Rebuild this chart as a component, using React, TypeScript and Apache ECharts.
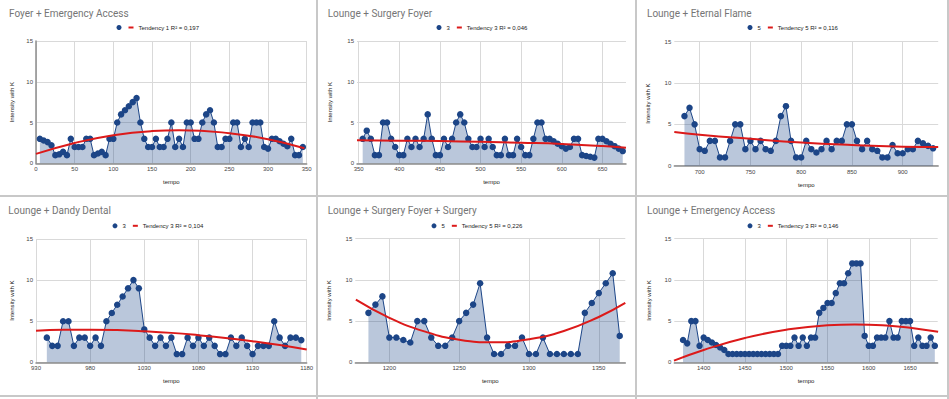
import React, { useEffect, useRef } from 'react';
import * as echarts from 'echarts';

// ---------- DATA ----------
const titles = [
  'Foyer + Emergency Access',
  'Lounge + Surgery Foyer',
  'Lounge + Eternal Flame',
  'Lounge + Dandy Dental',
  'Lounge + Surgery Foyer + Surgery',
  'Lounge + Emergency Access',
];
const seriesLabels = ['', '3', '5', '3', '5', '3'];
const trendLabels = [
  'Tendency 1 R² = 0,197',
  'Tendency 3 R² = 0,046',
  'Tendency 5 R² = 0,116',
  'Tendency 3 R² = 0,104',
  'Tendency 5 R² = 0,226',
  'Tendency 3 R² = 0,146',
];

const tempo1 = [5, 10, 15, 20, 25, 30, 35, 40, 45, 50, 55, 60, 65, 70, 75, 80, 85, 90, 95, 100, 105, 110, 115, 120, 125, 130, 135, 140, 145, 150, 155, 160, 165, 170, 175, 180, 185, 190, 195, 200, 205, 210, 215, 220, 225, 230, 235, 240, 245, 250, 255, 260, 265, 270, 275, 280, 285, 290, 295, 300, 305, 310, 315, 320, 325, 330, 335, 340, 345];
const intensity1 = [3, 2.8, 2.6, 2.2, 1, 1.1, 1.4, 1, 3, 2, 2, 2, 3, 3, 1, 1.2, 1.4, 1, 3, 3, 5, 6, 6.5, 7, 7.5, 8, 5, 3, 2, 2, 3, 2, 2, 3, 5, 2, 3, 2, 5, 5, 3, 3, 5, 6, 6.5, 5, 2, 2, 3, 3, 5, 5, 2, 3, 2, 5, 5, 5, 2, 1.8, 3, 3, 2.7, 2.4, 2.1, 3, 1, 1, 2];
const trendX1 = [0, 50, 100, 150, 185, 250, 300, 347];
const trendY1 = [1.15, 2.5, 3.45, 3.95, 4.05, 3.7, 2.95, 1.85];

const tempo2 = [355, 360, 365, 370, 375, 380, 385, 390, 395, 400, 405, 410, 415, 420, 425, 430, 435, 440, 445, 450, 455, 460, 465, 470, 475, 480, 485, 490, 495, 500, 505, 510, 515, 520, 525, 530, 535, 540, 545, 550, 555, 560, 565, 570, 575, 580, 585, 590, 595, 600, 605, 610, 615, 620, 625, 630, 635, 640, 645, 650, 655, 660, 665, 670, 675];
const intensity2 = [3, 4, 3, 1, 1, 5, 5, 3, 2, 1, 1, 3, 2, 3, 2, 3, 6, 3, 1, 1, 3, 2, 3, 5, 6, 5, 3, 2, 2, 3, 2, 3, 2, 1, 1, 3, 1, 1, 3, 2, 1, 1, 3, 5, 5, 3, 3, 2.7, 2.4, 2.1, 1.8, 2, 3, 3, 1, 0.9, 0.8, 0.7, 3, 3, 2.7, 2.4, 2.1, 1.8, 1.5];
const trendX2 = [348, 400, 450, 500, 550, 600, 650, 679];
const trendY2 = [2.82, 2.78, 2.72, 2.64, 2.52, 2.37, 2.12, 1.9];

const tempo3 = [685, 690, 695, 700, 705, 710, 715, 720, 725, 730, 735, 740, 745, 750, 755, 760, 765, 770, 775, 780, 785, 790, 795, 800, 805, 810, 815, 820, 825, 830, 835, 840, 845, 850, 855, 860, 865, 870, 875, 880, 885, 890, 895, 900, 905, 910, 915, 920, 925, 930];
const intensity3 = [6, 7, 5, 2, 1.8, 3, 3, 1, 1, 3, 5, 5, 2, 3, 2, 3, 2, 1.8, 3, 6, 7.2, 3, 1, 1, 3, 2, 1.6, 2, 3, 2, 3, 3, 5, 5, 3, 2, 3, 2, 1.8, 1, 1, 2.5, 1.5, 1.5, 2, 2, 3, 2.7, 2.4, 2.1];
const trendX3 = [675, 700, 750, 800, 850, 900, 935];
const trendY3 = [4.07, 3.75, 3.25, 2.8, 2.5, 2.3, 2.25];

const tempo4 = [940, 945, 950, 955, 960, 965, 970, 975, 980, 985, 990, 995, 1000, 1005, 1010, 1015, 1020, 1025, 1030, 1035, 1040, 1045, 1050, 1055, 1060, 1065, 1070, 1075, 1080, 1085, 1090, 1095, 1100, 1105, 1110, 1115, 1120, 1125, 1130, 1135, 1140, 1145, 1150, 1155, 1160, 1165, 1170, 1175];
const intensity4 = [3, 2, 2, 5, 5, 2, 3, 3, 2, 3, 2, 5, 6, 7, 8, 9, 10, 9, 4, 3, 2, 3, 2, 3, 1, 1, 3, 2, 3, 2, 3, 2, 1, 1, 3, 2, 3, 2, 1, 2, 2, 2, 5, 3, 2, 3, 3, 2.7];
const trendX4 = [930, 955, 980, 1005, 1030, 1055, 1080, 1105, 1130, 1155, 1180];
const trendY4 = [3.85, 3.95, 3.97, 3.92, 3.78, 3.58, 3.3, 2.97, 2.57, 2.1, 1.55];

const tempo5 = [1185, 1190, 1195, 1200, 1205, 1210, 1215, 1220, 1225, 1230, 1235, 1240, 1245, 1250, 1255, 1260, 1265, 1270, 1275, 1280, 1285, 1290, 1295, 1300, 1305, 1310, 1315, 1320, 1325, 1330, 1335, 1340, 1345, 1350, 1355, 1360, 1365];
const intensity5 = [6, 7, 8, 3, 3, 2.7, 2.4, 5, 5, 3, 2, 2, 3, 5, 6, 7, 9.6, 3, 1, 1, 2, 2, 3, 1, 1, 3, 1, 1, 1, 1, 1, 6, 7.2, 8.4, 9.6, 10.8, 3.2];
const trendX5 = [1176, 1200, 1225, 1250, 1275, 1300, 1325, 1350, 1369];
const trendY5 = [7.6, 5.4, 3.75, 2.75, 2.43, 2.8, 3.8, 5.5, 7.2];

const tempo6 = [1375, 1380, 1385, 1390, 1395, 1400, 1405, 1410, 1415, 1420, 1425, 1430, 1435, 1440, 1445, 1450, 1455, 1460, 1465, 1470, 1475, 1480, 1485, 1490, 1495, 1500, 1505, 1510, 1515, 1520, 1525, 1530, 1535, 1540, 1545, 1550, 1555, 1560, 1565, 1570, 1575, 1580, 1585, 1590, 1595, 1600, 1605, 1610, 1615, 1620, 1625, 1630, 1635, 1640, 1645, 1650, 1655, 1660, 1665, 1670, 1675, 1680];
const intensity6 = [2.7, 2.3, 5, 5, 2, 3, 2.7, 2.4, 2.1, 1.8, 1.5, 1, 1, 1, 1, 1, 1, 1, 1, 1, 1, 1, 1, 1, 2, 2, 2, 3, 2, 3, 2, 3, 3, 6, 6.6, 7.2, 7.2, 8.4, 9.6, 9.6, 10.8, 12, 12, 12, 3.2, 2, 2, 3, 3, 3, 5, 3, 3, 5, 5, 5, 2, 3, 2, 2, 3, 2];
const trendX6 = [1364, 1400, 1450, 1500, 1550, 1583, 1625, 1650, 1684];
const trendY6 = [0.2, 1.5, 2.95, 3.95, 4.5, 4.6, 4.45, 4.2, 3.7];

const xTicks1 = [0, 50, 100, 150, 200, 250, 300, 350];
const xTicks2 = [350, 400, 450, 500, 550, 600, 650];
const xTicks3 = [700, 750, 800, 850, 900];
const xTicks4 = [930, 980, 1030, 1080, 1130, 1180];
const xTicks5 = [1200, 1250, 1300, 1350];
const xTicks6 = [1400, 1450, 1500, 1550, 1600, 1650];

const xRanges = [
  [0, 350],
  [348, 679],
  [675, 935],
  [930, 1180],
  [1175.6, 1369],
  [1364.4, 1683.5],
];

const panels = [
  { tempo: tempo1, intensity: intensity1, tx: trendX1, ty: trendY1, ticks: xTicks1 },
  { tempo: tempo2, intensity: intensity2, tx: trendX2, ty: trendY2, ticks: xTicks2 },
  { tempo: tempo3, intensity: intensity3, tx: trendX3, ty: trendY3, ticks: xTicks3 },
  { tempo: tempo4, intensity: intensity4, tx: trendX4, ty: trendY4, ticks: xTicks4 },
  { tempo: tempo5, intensity: intensity5, tx: trendX5, ty: trendY5, ticks: xTicks5 },
  { tempo: tempo6, intensity: intensity6, tx: trendX6, ty: trendY6, ticks: xTicks6 },
];

// ---------- LAYOUT ----------
const layout = [
  { gl: 36, gt: 41, gw: 270.7, gh: 122.3, tx: 9, ty: 8, lx: 116.5, ly: 24.5, yng: 21 },
  { gl: 357, gt: 41, gw: 269, gh: 122.3, tx: 327.7, ty: 8, lx: 436.5, ly: 24.5, yng: 24.5 },
  { gl: 674.3, gt: 41.7, gw: 263.9, gh: 124, tx: 647, ty: 8, lx: 747.5, ly: 24.5, yng: 23 },
  { gl: 36, gt: 239, gw: 270.7, gh: 123.3, tx: 8.3, ty: 205, lx: 112.5, ly: 222.8, yng: 21 },
  { gl: 355.3, gt: 238.7, gw: 270, gh: 123.6, tx: 327.7, ty: 205, lx: 431.5, ly: 222.8, yng: 23 },
  { gl: 674.3, gt: 238.7, gw: 263.4, gh: 123.6, tx: 647, ty: 205, lx: 747.5, ly: 222.8, yng: 22.5 },
];

const BLUE = '#1c4587';
const RED = '#dc1a1a';
const SMALL_FONT = "'Liberation Sans', Arial, sans-serif";
const TREND_ICON = 'path://M0,0H5V2H0Z';

export default function App() {
  const ref = useRef<HTMLDivElement>(null);

  useEffect(() => {
    if (!ref.current) return;
    const chart = echarts.init(ref.current, undefined, { renderer: 'svg' });

    const labelMap: Record<string, string> = {};
    panels.forEach((_, i) => {
      labelMap['s' + i] = seriesLabels[i];
      labelMap['t' + i] = trendLabels[i];
    });

    const series: any[] = [];
    panels.forEach((p, i) => {
      series.push({
        name: 's' + i,
        type: 'line',
        xAxisIndex: i,
        yAxisIndex: i,
        data: p.tempo.map((x, k) => [x, p.intensity[k]]),
        symbol: 'circle',
        symbolSize: 6.5,
        showSymbol: true,
        lineStyle: { color: BLUE, width: 1 },
        itemStyle: { color: BLUE },
        areaStyle: { color: BLUE, opacity: 0.3 },
        z: 2,
      });
      series.push({
        name: 't' + i,
        type: 'line',
        xAxisIndex: i,
        yAxisIndex: i,
        data: p.tx.map((x, k) => [x, p.ty[k]]),
        smooth: 0.5,
        symbol: 'none',
        showSymbol: false,
        lineStyle: { color: RED, width: 2 },
        itemStyle: { color: RED },
        z: 3,
      });
    });

    const borderLines = [
      { x1: 317, y1: 0, x2: 317, y2: 399 },
      { x1: 636, y1: 0, x2: 636, y2: 399 },
      { x1: 948, y1: 0, x2: 948, y2: 399 },
      { x1: 0, y1: 196, x2: 949, y2: 196 },
      { x1: 0, y1: 396, x2: 949, y2: 396 },
    ];

    const option: any = {
      animation: false,
      textStyle: { fontFamily: SMALL_FONT },
      title: panels.map((_, i) => ({
        text: titles[i],
        left: layout[i].tx,
        top: layout[i].ty,
        padding: 0,
        textStyle: { fontSize: 10, fontWeight: 'normal', color: '#757575', fontFamily: 'Roboto, Arial, sans-serif' },
      })),
      legend: panels.map((_, i) => ({
        left: layout[i].lx,
        top: layout[i].ly,
        padding: 0,
        orient: 'horizontal',
        itemWidth: 5,
        itemHeight: 5,
        itemGap: 7,
        selectedMode: false,
        symbolKeepAspect: true,
        data: [
          { name: 's' + i, icon: 'circle' },
          { name: 't' + i, icon: TREND_ICON, itemStyle: { color: RED } },
        ],
        formatter: (n: string) => labelMap[n] ?? '',
        textStyle: { fontSize: 6, color: '#222', fontFamily: SMALL_FONT },
      })),
      grid: panels.map((_, i) => ({
        left: layout[i].gl,
        top: layout[i].gt,
        width: layout[i].gw,
        height: layout[i].gh,
        containLabel: false,
        outerBoundsMode: 'none',
      })),
      xAxis: panels.map((p, i) => ({
        type: 'value',
        gridIndex: i,
        min: xRanges[i][0],
        max: xRanges[i][1],
        name: 'tempo',
        nameLocation: 'middle',
        nameGap: 16,
        nameMoveOverlap: false,
        nameTextStyle: { fontSize: 6, color: '#222', fontFamily: SMALL_FONT },
        axisLine: { show: true, onZero: false, lineStyle: { color: '#8c8c8c', width: 1.5 } },
        axisTick: { show: false, customValues: p.ticks },
        axisLabel: {
          fontSize: 6,
          color: '#444',
          margin: 3,
          customValues: p.ticks,
          hideOverlap: false,
          formatter: (v: number) => String(v),
        },
        splitLine: { show: true, lineStyle: { color: '#d9d9d9', width: 1 } },
      })),
      yAxis: panels.map((_, i) => ({
        type: 'value',
        gridIndex: i,
        min: 0,
        max: 15,
        interval: 5,
        name: 'Intensity with K',
        nameLocation: 'middle',
        nameGap: layout[i].yng,
        nameMoveOverlap: false,
        nameTextStyle: { fontSize: 6, color: '#222', fontFamily: SMALL_FONT },
        axisLine: { show: xRanges[i][0] === 0, onZero: false, lineStyle: { color: '#8c8c8c', width: 1.5 } },
        axisTick: { show: false },
        axisLabel: { fontSize: 6, color: '#444', margin: 3, formatter: (v: number) => String(v) },
        splitLine: { show: true, lineStyle: { color: '#d9d9d9', width: 1 } },
      })),
      series,
      graphic: borderLines.map((s) => ({
        type: 'line',
        shape: s,
        style: { stroke: '#c8c8c8', lineWidth: 2 },
        silent: true,
      })),
    };

    chart.setOption(option);
    return () => chart.dispose();
  }, []);

  return (
    <div
      ref={ref}
      style={{ position: 'fixed', left: 0, top: 0, width: 949, height: 399, background: '#fff' }}
    />
  );
}
